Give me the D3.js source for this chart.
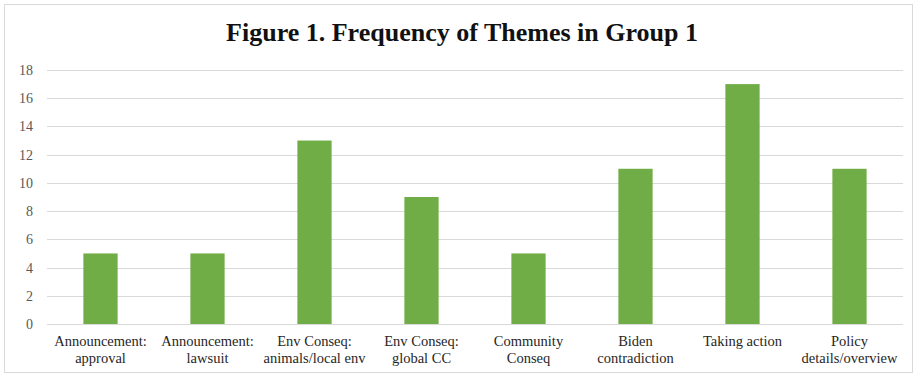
<!DOCTYPE html>
<html lang="en">
<head>
    <meta charset="UTF-8">
    <title>Frequency of Themes</title>
    <script src="https://d3js.org/d3.v7.min.js"></script>
    <style>
        body { margin: 0; background: #fff; }
        .bar { fill: #70AD47; }
        .grid line { stroke: #d9d9d9; stroke-width: 1; }
        text { font-family: "Liberation Serif", "Times New Roman", serif; }
    </style>
</head>
<body>
<svg width="917" height="376"></svg>

<script>
    // chart data
    var categories = [
        ["Announcement:", "approval"],
        ["Announcement:", "lawsuit"],
        ["Env Conseq:", "animals/local env"],
        ["Env Conseq:", "global CC"],
        ["Community", "Conseq"],
        ["Biden", "contradiction"],
        ["Taking action"],
        ["Policy", "details/overview"]
    ];
    var counts = [5, 5, 13, 9, 5, 11, 17, 11];
    var yTicks = [0, 2, 4, 6, 8, 10, 12, 14, 16, 18];

    var svg = d3.select("svg");

    var plotLeft = 47, plotRight = 903, plotTop = 70, plotBottom = 324;

    // outer frame
    svg.append("rect")
        .attr("x", 4.5).attr("y", 4.5)
        .attr("width", 908).attr("height", 368)
        .attr("fill", "none")
        .attr("stroke", "#d9d9d9");

    svg.append("text")
        .attr("x", 462)
        .attr("y", 41)
        .attr("text-anchor", "middle")
        .attr("font-family", "Liberation Serif")
        .attr("font-size", "26px")
        .attr("font-weight", "bold")
        .attr("fill", "#111")
        .text("Figure 1. Frequency of Themes in Group 1");

    var x = d3.scaleBand()
        .domain(d3.range(categories.length))
        .range([plotLeft, plotRight])
        .paddingInner(0.68)
        .paddingOuter(0.34);

    var y = d3.scaleLinear().domain([0, 18]).range([plotBottom, plotTop]);

    // gridlines
    var grid = svg.append("g").attr("class", "grid");
    grid.selectAll("line")
        .data(yTicks)
        .enter().append("line")
        .attr("x1", plotLeft).attr("x2", plotRight)
        .attr("y1", function(d) { return Math.round(y(d)) + 0.5; })
        .attr("y2", function(d) { return Math.round(y(d)) + 0.5; });

    // y labels
    svg.selectAll(".ylab")
        .data(yTicks)
        .enter().append("text")
        .attr("class", "ylab")
        .attr("x", 33)
        .attr("y", function(d) { return y(d) + 5; })
        .attr("text-anchor", "end")
        .attr("font-family", "Liberation Serif")
        .attr("font-size", "14px")
        .attr("fill", "#595959")
        .text(function(d) { return d; });

    // bars
    svg.selectAll(".bar")
        .data(counts)
        .enter().append("rect")
        .attr("class", "bar")
        .attr("x", function(d, i) { return x(i); })
        .attr("y", function(d) { return y(d); })
        .attr("width", x.bandwidth())
        .attr("height", function(d) { return y(0) - y(d); });

    // x labels
    var labs = svg.selectAll(".xlab")
        .data(categories)
        .enter().append("text")
        .attr("class", "xlab")
        .attr("text-anchor", "middle")
        .attr("font-family", "Liberation Serif")
        .attr("font-size", "14.5px")
        .attr("fill", "#262626");
    labs.selectAll("tspan")
        .data(function(d, i) { return d.map(function(t) { return {t: t, i: i}; }); })
        .enter().append("tspan")
        .attr("x", function(d) { return x(d.i) + x.bandwidth() / 2; })
        .attr("y", function(d, j) { return 346 + j * 17; })
        .text(function(d) { return d.t; });
</script>
</body>
</html>
